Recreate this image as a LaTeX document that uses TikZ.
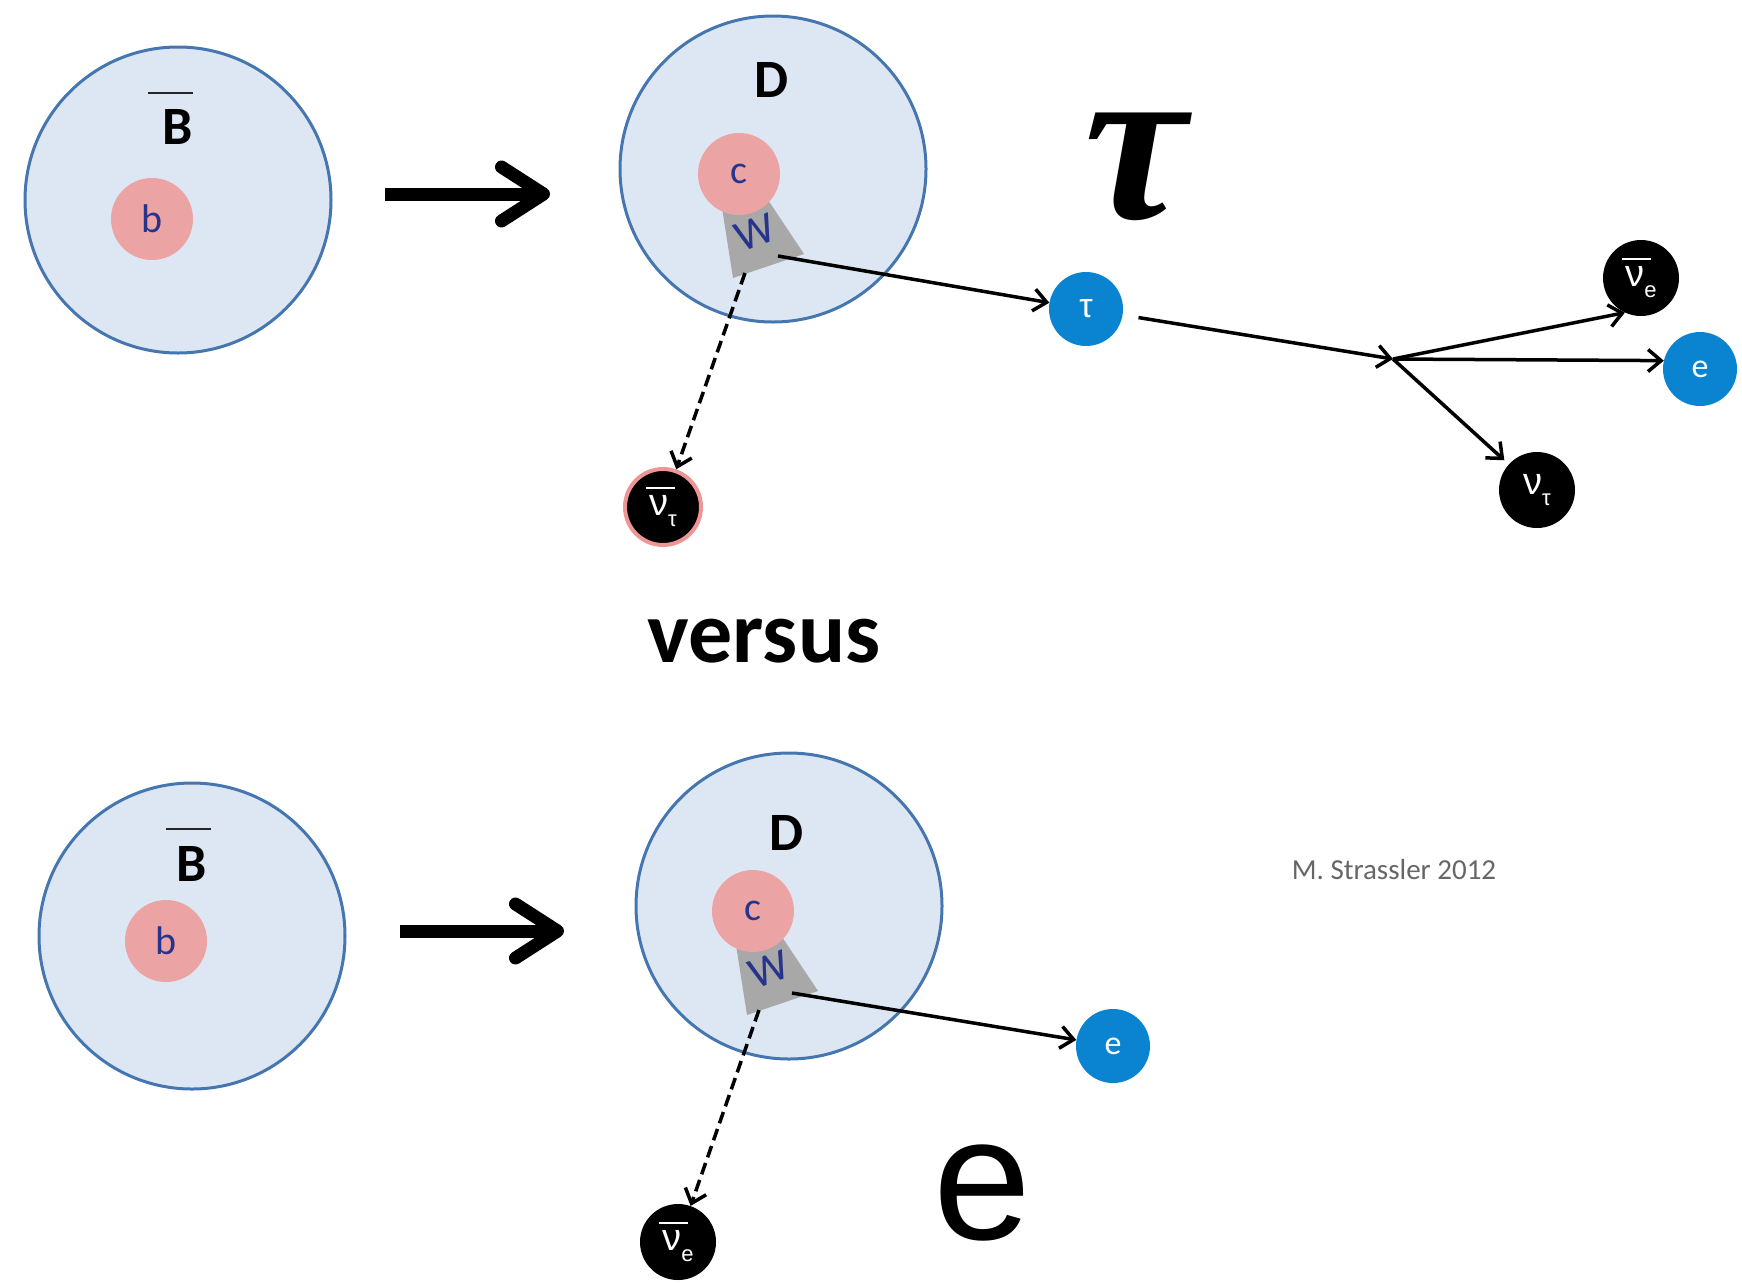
\documentclass[tikz,border=0pt]{standalone}
\usepackage{fontspec}
\setmainfont{Carlito}
\newfontfamily\grfont{Liberation Sans}
\newfontfamily\taufont{Liberation Serif}
\newfontfamily\arialfont{Liberation Sans}
\usetikzlibrary{arrows.meta}

\definecolor{hadfill}{RGB}{221,231,243}
\definecolor{hadline}{RGB}{70,118,176}
\definecolor{qfill}{RGB}{235,163,163}
\definecolor{qtext}{RGB}{38,52,140}
\definecolor{lepblue}{RGB}{10,132,208}
\definecolor{wgray}{RGB}{168,168,168}
\definecolor{glowpink}{RGB}{238,150,150}

% neutrino labels: nu with a subscript, with or without an overbar
\newcommand{\nulab}[1]{{\grfont\fontsize{38}{38}\selectfont ν\raisebox{-0.28em}{\fontsize{22}{22}\selectfont #1}}}
\newcommand{\nubarlab}[1]{{\grfont\fontsize{38}{38}\selectfont
  \leavevmode\rlap{\hspace{-3pt}\raisebox{0.7em}{\rule{0.75em}{2pt}}}ν\raisebox{-0.28em}{\fontsize{22}{22}\selectfont #1}}}

\tikzset{
  hadron/.style={circle, fill=hadfill, draw=hadline, line width=3pt, minimum size=306pt, inner sep=0pt},
  quark/.style={circle, fill=qfill, minimum size=82pt, inner sep=0pt, text=qtext, font=\fontsize{40}{40}\selectfont},
  lepton/.style={circle, fill=lepblue, minimum size=74pt, inner sep=0pt, text=white, font=\fontsize{34}{34}\selectfont},
  neutrino/.style={circle, fill=black, minimum size=76pt, inner sep=0pt, text=white},
  hadlabel/.style={font=\fontsize{54}{54}\selectfont\bfseries, inner sep=0pt},
  wlabel/.style={text=qtext, font=\fontsize{44}{44}\selectfont, rotate=20, inner sep=0pt},
  bigarrow/.style={line width=13pt, -{Straight Barb[length=42pt,width=54pt,round]}},
  thinarrow/.style={line width=3.5pt, -{Straight Barb[length=13pt,width=22pt]}},
  dasharrow/.style={thinarrow, dash pattern=on 12pt off 6pt},
  antibar/.style={line width=2pt, draw=black!85},
}

\begin{document}
\begin{tikzpicture}[x=1pt, y=-1pt]
\useasboundingbox (0,0) rectangle (1742,1283);

% ---------- upper row: B -> D tau nu ----------
\node[hadron] (B1) at (178,200) {};
\node[hadlabel] (B1lab) at (178,127) {B};
\draw[antibar] (148,93) -- (193,93);
\node[quark] (b1) at (152,219) {b};

\coordinate (a1s) at (385,194);
\coordinate (a1e) at (550,194);
\draw[bigarrow] (a1s) -- (a1e);

\node[hadron] (D1) at (773,169) {};
\node[hadlabel] (D1lab) at (772,80) {D};
\fill[wgray] (722,208) -- (768,200) -- (804,254) -- (733,278) -- cycle;
\node[quark] (c1) at (739,174) {c};
\node[wlabel] (W1) at (755,233) {W};
\coordinate (w1a) at (778,256);
\coordinate (w1b) at (745,273);

\node[lepton] (tau) at (1086,309) {\grfont τ};
\node[neutrino, draw=glowpink, line width=4pt] (nutb) at (663,507) {\nubarlab{τ}};

\draw[thinarrow] (w1a) -- (tau);
\draw[dasharrow] (w1b) -- (nutb);

\node[inner sep=0pt, font=\taufont\bfseries\itshape\fontsize{230}{230}\selectfont] (bigtau) at (1136,167) {τ};

\coordinate (v) at (1393,359);
\node[neutrino] (nueb) at (1641,278) {\nubarlab{e}};
\node[lepton] (e1) at (1700,369) {e};
\node[neutrino] (nut) at (1537,490) {\nulab{τ}};

\draw[thinarrow, shorten <=16pt] (tau) -- (v);
\draw[thinarrow] (v) -- (nueb.245);
\draw[thinarrow] (v) -- (e1.167);
\draw[thinarrow, shorten >=6pt] (v) -- (nut);

\node[inner sep=0pt, font=\fontsize{88}{88}\selectfont\bfseries] (versus) at (764,641) {versus};

\node[inner sep=0pt, text=black!60, font=\fontsize{29}{29}\selectfont] (credit) at (1394,870) {M. Strassler 2012};

% ---------- lower row: B -> D e nu ----------
\node[hadron] (B2) at (192,936) {};
\node[hadlabel] (B2lab) at (192,864) {B};
\draw[antibar] (166,829) -- (211,829);
\node[quark] (b2) at (166,941) {b};

\coordinate (a2s) at (400,931);
\coordinate (a2e) at (564,931);
\draw[bigarrow] (a2s) -- (a2e);

\node[hadron] (D2) at (789,906) {};
\node[hadlabel] (D2lab) at (787,833) {D};
\fill[wgray] (736,945) -- (782,937) -- (818,991) -- (747,1015) -- cycle;
\node[quark] (c2) at (753,911) {c};
\node[wlabel] (W2) at (769,970) {W};
\coordinate (w2a) at (792,993);
\coordinate (w2b) at (759,1010);

\node[lepton] (e2) at (1113,1046) {e};
\node[neutrino] (nueb2) at (678,1242) {\nubarlab{e}};

\draw[thinarrow] (w2a) -- (e2);
\draw[dasharrow] (w2b) -- (nueb2);

\node[inner sep=0pt, font=\arialfont\fontsize{176}{176}\selectfont] (bige) at (982,1193) {e};

\end{tikzpicture}
\end{document}
